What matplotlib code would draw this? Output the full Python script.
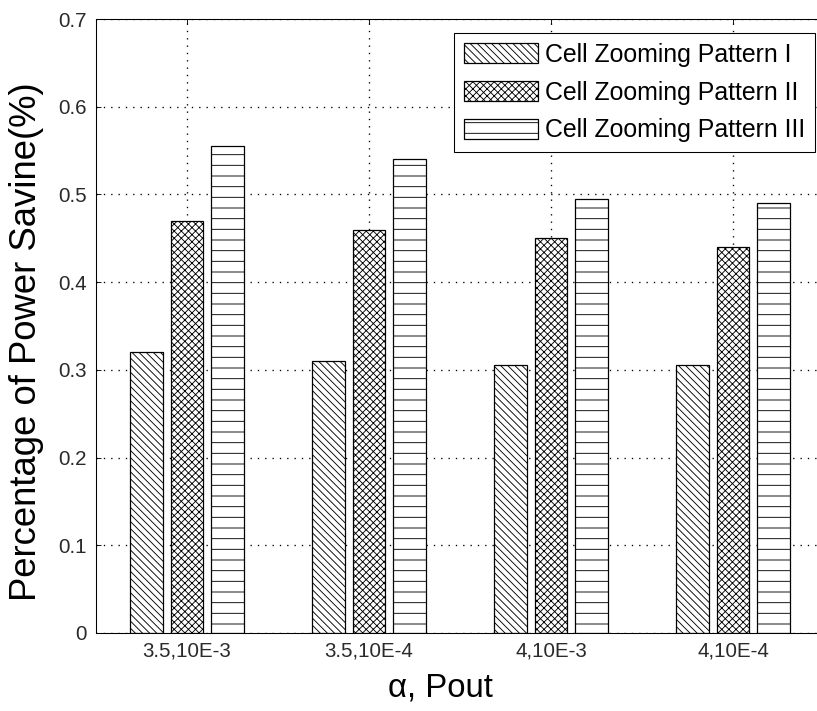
import numpy as np
import matplotlib.pyplot as plt

# data
groups = ['3.5,10E-3', '3.5,10E-4', '4,10E-3', '4,10E-4']
pattern_1 = [0.32, 0.31, 0.305, 0.305]
pattern_2 = [0.47, 0.46, 0.45, 0.44]
pattern_3 = [0.555, 0.54, 0.495, 0.49]
series_names = ['Cell Zooming Pattern I', 'Cell Zooming Pattern II', 'Cell Zooming Pattern III']
yticks = [0, 0.1, 0.2, 0.3, 0.4, 0.5, 0.6, 0.7]

DPI = 64  # hatch spacing is per inch, so a lower dpi gives the denser MATLAB look
plt.rcParams['font.family'] = ['Liberation Sans', 'DejaVu Sans']
plt.rcParams['hatch.linewidth'] = 1.0
plt.rcParams['hatch.color'] = 'black'

fig = plt.figure(figsize=(817 / DPI, 711 / DPI), dpi=DPI)
# the right edge of the original axes is cut off by the image border
ax = fig.add_axes([96 / 817, 78 / 711, 728 / 817, 614 / 711])

x = np.arange(1, len(groups) + 1)
off = 0.222
w = 0.18
hatches = ['\\\\\\', 'xxx', '-']
for i, (vals, h) in enumerate(zip([pattern_1, pattern_2, pattern_3], hatches)):
    ax.bar(x + (i - 1) * off, vals, w, facecolor='white', edgecolor='black',
           linewidth=1.4, hatch=h, label=series_names[i], zorder=2)

ax.set_xlim(0.5, 4.5)
ax.set_ylim(0, 0.7)
ax.set_xticks(x)
ax.set_xticklabels(groups)
ax.set_yticks(yticks)
ax.set_yticklabels(['0' if v == 0 else f'{v:.1f}' for v in yticks])
ax.tick_params(direction='in', length=6, width=1, top=True, right=True,
               labelsize=23, colors='black', labelcolor='#2a2a2a', pad=10)
ax.grid(True, linestyle=(0, (1, 4.5)), color='black', linewidth=1.5, zorder=0)
ax.set_axisbelow(True)
for s in ax.spines.values():
    s.set_linewidth(1.2)

ax.set_ylabel('Percentage of Power Savine(%)', fontsize=41)
ax.yaxis.set_label_coords(-0.071, 0.475)
ax.set_xlabel('α, Pout', fontsize=37)
ax.xaxis.set_label_coords(0.4725, -0.064)

leg = ax.legend(loc='upper right', bbox_to_anchor=(0.988, 0.977), borderaxespad=0,
                fontsize=28, fancybox=False, edgecolor='black', framealpha=1,
                handlelength=3.0, handleheight=0.86, handletextpad=0.27,
                labelspacing=0.55, borderpad=0.4)
leg.get_frame().set_linewidth(1.2)

fig.savefig('out.png', dpi=DPI)
